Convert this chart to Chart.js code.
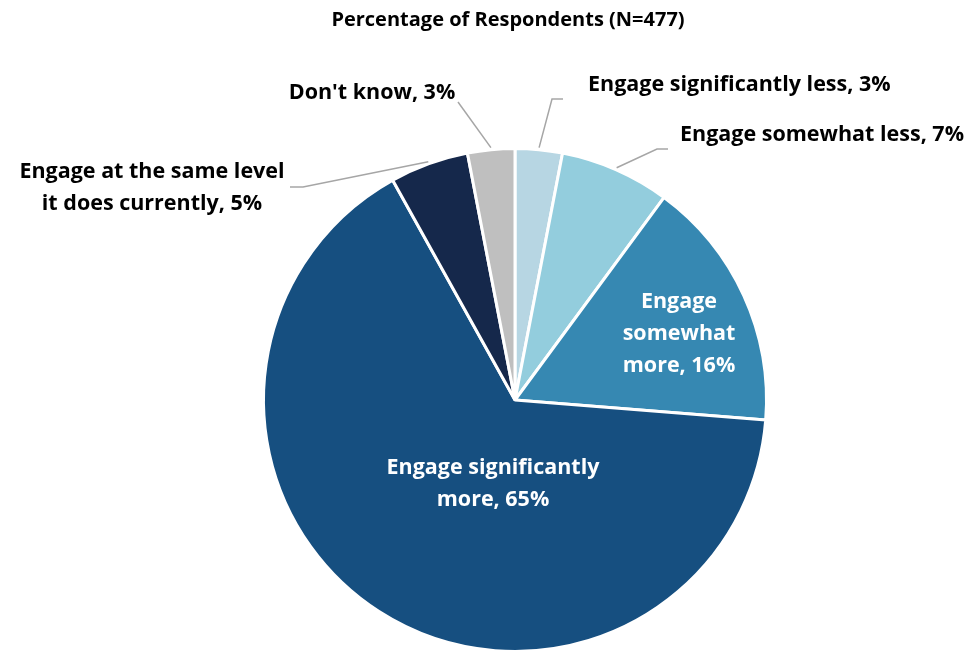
<!DOCTYPE html>
<html lang="en">
<head>
<meta charset="UTF-8">
<title>Percentage of Respondents</title>
<style>
  html, body { margin: 0; padding: 0; background: #fff; overflow: hidden; }
  canvas { display: block; }
</style>
</head>
<body>
<canvas id="Chart" width="979" height="660"></canvas>
<script src="https://cdn.jsdelivr.net/npm/chart.js"></script>
<script>
// data
const titleText = 'Percentage of Respondents (N=477)';
const categories = [
  'Engage significantly less',
  'Engage somewhat less',
  'Engage somewhat more',
  'Engage significantly more',
  'Engage at the same level it does currently',
  "Don't know"
];
const percents = [3, 7, 16, 65, 5, 3];
const sliceColors = ['#b7d6e3', '#93cddd', '#3688b2', '#164f80', '#15284b', '#bfbfbf'];

// label text lines and where they sit
const labelLines = [
  ['Engage significantly less, 3%'],
  ['Engage somewhat less, 7%'],
  ['Engage', 'somewhat', 'more, 16%'],
  ['Engage significantly', 'more, 65%'],
  ['Engage at the same level', 'it does currently, 5%'],
  ["Don't know, 3%"]
];
const labelSpots = [
  { x: 588, y: 85, align: 'left', color: '#000' },
  { x: 680, y: 135, align: 'left', color: '#000' },
  { x: 679, y: 302, align: 'center', color: '#fff' },
  { x: 493, y: 468, align: 'center', color: '#fff' },
  { x: 152, y: 172, align: 'center', color: '#000' },
  { x: 372, y: 93, align: 'center', color: '#000' }
];
// elbow points of the leader lines (null = no line)
const leaders = [
  [[552, 99], [563, 99]],
  [[657, 149], [668, 149]],
  null,
  null,
  [[303, 187], [290, 187]],
  [[458, 102]]
];

const FONT = 'bold 21.5px "Open Sans", sans-serif';

const labelPlugin = {
  id: 'pieLabels',
  afterDraw(chart) {
    const ctx = chart.ctx;
    ctx.save();
    // title
    ctx.font = 'bold 20px "Open Sans", sans-serif';
    ctx.fillStyle = '#000';
    ctx.textAlign = 'center';
    ctx.textBaseline = 'middle';
    ctx.fillText(titleText, 508, 20);

    const arcs = chart.getDatasetMeta(0).data;
    arcs.forEach((arc, i) => {
      const p = arc.getProps(['x', 'y', 'startAngle', 'endAngle', 'outerRadius'], true);
      if (leaders[i]) {
        const mid = (p.startAngle + p.endAngle) / 2;
        const r = p.outerRadius + 2;
        ctx.beginPath();
        ctx.moveTo(p.x + Math.cos(mid) * r, p.y + Math.sin(mid) * r);
        leaders[i].forEach(pt => ctx.lineTo(pt[0], pt[1]));
        ctx.strokeStyle = '#a6a6a6';
        ctx.lineWidth = 1.5;
        ctx.stroke();
      }
      const s = labelSpots[i];
      ctx.font = FONT;
      ctx.fillStyle = s.color;
      ctx.textAlign = s.align;
      ctx.textBaseline = 'middle';
      labelLines[i].forEach((line, k) => ctx.fillText(line, s.x, s.y + k * 32));
    });
    ctx.restore();
  }
};

new Chart(document.getElementById('Chart'), {
  type: 'pie',
  data: {
    labels: categories,
    datasets: [{
      data: percents,
      backgroundColor: sliceColors,
      borderColor: '#ffffff',
      borderWidth: 3
    }]
  },
  options: {
    responsive: false,
    animation: false,
    layout: { padding: { top: 147, bottom: 7, left: 262, right: 211 } },
    plugins: {
      legend: { display: false },
      tooltip: { enabled: false },
      title: { display: false }
    }
  },
  plugins: [labelPlugin]
});
</script>
</body>
</html>
